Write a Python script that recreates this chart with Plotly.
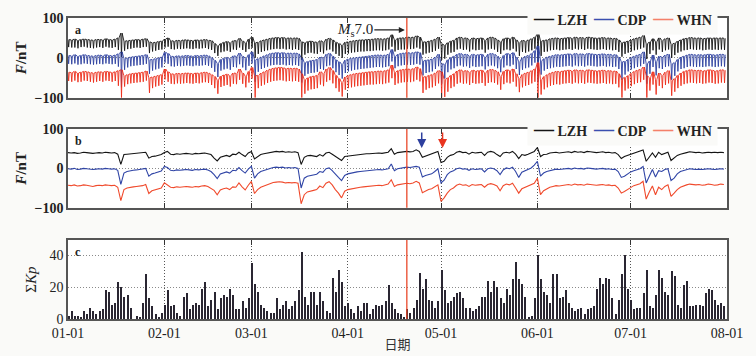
import pandas as pd
import plotly.graph_objects as go
from plotly.subplots import make_subplots

# ---------------- data ----------------
start_date = "2013-01-01"
n_days = 212
tick_dates = ["2013-01-01", "2013-02-01", "2013-03-01", "2013-04-01",
              "2013-05-01", "2013-06-01", "2013-07-01", "2013-08-01"]
tick_labels = ["01-01", "02-01", "03-01", "04-01", "05-01", "06-01", "07-01", "08-01"]
quake_date = "2013-04-20"
event_blue = "2013-04-24 19:00"
event_red = "2013-05-01 12:00"
stations = ["LZH", "CDP", "WHN"]

# panel a: per-day night level (hi) and daytime dip level (lo), nT
a_lzh_hi = [46,45,47,44,46,47,46,45,44,46, 46,45,48,46,45,47,50,62,42,43,
            44,45,46,45,47,48,40,38,39,41, 42,47,50,43,42,44,43,45,45,44,
            43,45,44,45,46,44,43,36,30,36, 39,41,38,43,43,49,42,38,47,52,
            38,39,43,45,47,49,50,51,50,51, 49,50,49,50,49,40,38,41,42,40,
            39,43,40,47,49,45,39,36,32,39, 40,42,43,44,45,45,46,46,47,48,
            48,47,48,50,58,45,49,50,50,52, 51,52,55,52,40,40,42,44,47,52,
            35,32,38,42,44,50,52,49,50,45, 50,48,49,50,44,50,52,50,45,40,
            48,50,48,52,45,38,44,42,45,48, 52,62,42,44,45,48,49,50,48,49,
            50,51,49,52,50,51,49,52,51,50, 49,50,51,49,50,48,49,45,38,40,
            42,45,48,50,52,56,35,40,48,40, 50,44,48,50,34,37,42,45,48,49,
            51,50,49,50,48,49,50,49,50,49, 50,49]
a_lzh_lo = [27,26,26,24,27,28,26,25,24,26, 27,25,28,26,25,27,20,2,18,22,
            23,25,26,25,27,28,12,16,18,20, 21,26,28,22,21,23,22,23,24,23,
            22,24,23,24,25,22,20,12,5,14, 16,18,15,21,20,26,20,15,22,25,
            0,10,15,17,19,21,22,23,22,23, 21,22,20,22,20,-5,8,12,13,11,
            10,15,11,19,21,16,10,5,0,10, 11,13,14,15,16,16,17,17,18,19,
            19,18,19,21,28,16,20,21,21,23, 22,23,26,23,8,11,13,15,18,23,
            -5,-2,8,13,15,21,23,20,21,16, 21,19,20,21,13,21,23,21,15,10,
            19,21,19,23,16,5,15,13,16,19, 23,-10,5,15,16,19,20,21,19,20,
            21,22,20,23,21,22,20,23,22,21, 20,21,22,20,21,19,20,15,3,10,
            13,16,19,21,23,26,-3,10,19,8, 21,15,19,21,0,7,13,16,19,20,
            22,21,20,21,19,20,21,20,21,20, 21,20]
a_cdp_hi = [6,5,8,4,6,8,6,5,4,6, 7,5,8,6,5,7,10,15,-2,0,
            2,3,4,5,6,8,-5,-4,-2,0, 2,14,11,4,3,5,4,5,6,5,
            4,6,5,6,7,5,1,-6,-14,-4, -1,1,-2,5,4,12,4,-1,8,15,
            -5,-2,2,5,8,11,12,13,12,13, 11,12,11,12,10,0,-12,-9,-7,-6,
            -4,2,0,9,11,4,-5,-10,-16,-6, -3,-1,0,1,2,3,4,5,6,7,
            7,6,7,9,21,4,9,11,12,13, 12,13,15,13,-8,-6,-5,-3,2,9,
            -15,-16,-5,1,4,9,11,8,9,5, 9,7,8,9,1,9,11,9,4,-5,
            6,11,9,13,2,-10,0,4,6,11, 18,30,-8,-2,2,4,6,8,7,8,
            9,10,8,11,9,10,8,11,10,9, 8,9,10,8,9,7,8,2,-10,-9,
            -4,1,4,7,9,15,-15,-8,7,-10, 4,2,7,9,-15,-12,-4,2,4,7,
            9,8,7,8,7,8,9,8,7,8, 9,8]
a_cdp_lo = [-15,-16,-14,-17,-16,-14,-15,-16,-17,-16, -15,-16,-14,-15,-16,-15,-22,-74,-30,-24,
            -21,-20,-19,-18,-17,-15,-40,-32,-29,-27, -24,-12,-15,-21,-22,-20,-21,-20,-19,-20,
            -21,-19,-20,-19,-18,-20,-25,-35,-48,-32, -29,-27,-30,-23,-24,-16,-24,-31,-20,-14,
            -60,-35,-28,-25,-22,-19,-18,-17,-18,-17, -19,-18,-19,-18,-20,-62,-45,-40,-38,-37,
            -35,-28,-30,-21,-19,-26,-36,-43,-52,-38, -34,-32,-30,-29,-28,-27,-26,-25,-24,-23,
            -23,-24,-23,-21,-9,-26,-21,-19,-18,-17, -18,-17,-15,-17,-44,-38,-36,-34,-28,-21,
            -65,-52,-36,-29,-26,-21,-19,-22,-21,-25, -21,-23,-22,-21,-29,-21,-19,-21,-26,-36,
            -24,-19,-21,-17,-28,-43,-30,-26,-24,-19, -12,-60,-42,-32,-28,-26,-24,-22,-23,-22,
            -21,-20,-22,-19,-21,-20,-22,-19,-20,-21, -22,-21,-20,-22,-21,-23,-22,-28,-55,-42,
            -34,-29,-26,-23,-21,-15,-65,-40,-23,-44, -26,-28,-23,-21,-55,-45,-34,-28,-26,-23,
            -21,-22,-23,-22,-23,-22,-21,-22,-23,-22, -21,-22]
a_whn_hi = [-36,-37,-34,-38,-36,-34,-35,-37,-38,-36, -35,-36,-34,-35,-37,-35,-32,-30,-45,-42,
            -40,-39,-38,-37,-36,-33,-50,-48,-46,-44, -42,-28,-35,-40,-41,-39,-40,-39,-38,-39,
            -40,-38,-39,-37,-36,-38,-42,-47,-56,-46, -43,-41,-45,-38,-39,-28,-38,-46,-34,-24,
            -45,-44,-38,-35,-31,-28,-26,-25,-24,-25, -27,-26,-27,-26,-28,-40,-55,-50,-47,-46,
            -44,-35,-39,-28,-24,-32,-44,-52,-62,-48, -44,-42,-40,-39,-38,-37,-36,-35,-35,-34,
            -33,-34,-32,-30,-18,-36,-32,-30,-29,-28, -29,-27,-23,-27,-48,-47,-44,-42,-38,-32,
            -35,-55,-50,-44,-40,-33,-30,-33,-32,-36, -31,-33,-32,-31,-38,-31,-29,-31,-35,-47,
            -34,-30,-32,-28,-40,-52,-42,-38,-36,-32, -28,-12,-55,-47,-42,-38,-36,-34,-35,-33,
            -32,-31,-33,-30,-32,-31,-33,-30,-31,-32, -33,-32,-31,-33,-32,-34,-33,-40,-52,-49,
            -45,-39,-34,-31,-29,-23,-45,-50,-35,-55, -38,-44,-36,-32,-58,-52,-44,-38,-34,-32,
            -30,-31,-32,-31,-33,-32,-30,-31,-33,-32, -30,-31]
a_whn_lo = [-58,-60,-57,-61,-60,-57,-58,-60,-62,-60, -58,-60,-57,-58,-60,-58,-70,-100,-72,-66,
            -64,-63,-62,-61,-60,-57,-88,-76,-72,-70, -67,-54,-60,-65,-66,-64,-65,-64,-63,-64,
            -65,-63,-64,-62,-61,-63,-68,-76,-90,-73, -70,-68,-72,-65,-66,-55,-65,-74,-62,-52,
            -100,-76,-70,-67,-63,-60,-58,-57,-56,-57, -59,-58,-59,-58,-60,-100,-90,-82,-79,-78,
            -76,-67,-71,-60,-56,-64,-76,-85,-97,-80, -76,-74,-72,-71,-70,-69,-68,-67,-67,-66,
            -65,-66,-64,-62,-51,-68,-64,-62,-61,-60, -61,-59,-55,-59,-88,-80,-76,-74,-70,-64,
            -100,-98,-85,-76,-72,-65,-62,-65,-64,-68, -63,-65,-64,-63,-70,-63,-61,-63,-67,-80,
            -66,-62,-64,-60,-72,-86,-74,-70,-68,-64, -60,-100,-92,-79,-74,-70,-68,-66,-67,-65,
            -64,-63,-65,-62,-64,-63,-65,-62,-63,-64, -65,-64,-63,-65,-64,-66,-65,-74,-100,-82,
            -77,-71,-66,-63,-61,-55,-100,-82,-67,-92, -70,-76,-68,-64,-95,-85,-76,-70,-66,-64,
            -62,-63,-64,-63,-65,-64,-62,-63,-65,-64, -62,-63]
a_sample_hours = [0, 5, 10]   # night, local-noon dip, night

# panel b: daily means, nT
b_lzh = [40,39,40,38,39,41,40,39,38,39, 40,39,41,40,39,40,36,10,35,36,
         37,38,39,39,40,41,26,30,31,33, 35,40,43,36,35,37,36,37,38,37,
         36,38,37,38,39,37,35,26,19,28, 31,33,30,36,35,41,35,30,39,43,
         24,30,35,37,39,41,42,43,42,43, 41,42,41,42,40,10,28,32,33,31,
         30,35,31,39,41,36,30,25,20,30, 31,33,34,35,36,36,37,37,38,39,
         39,38,39,41,50,36,40,41,41,43, 42,43,47,43,28,31,33,35,38,43,
         15,18,28,33,35,41,43,40,41,36, 41,39,40,41,33,41,43,41,35,30,
         39,41,39,43,36,25,35,33,36,39, 43,53,30,35,36,39,40,41,39,40,
         41,42,40,43,41,42,40,43,42,41, 40,41,42,40,41,39,40,35,25,30,
         33,36,39,41,43,47,18,30,39,28, 41,35,39,41,20,27,33,36,39,40,
         42,41,40,41,39,40,41,40,41,40, 41,40]
b_cdp = [-1,-2,0,-3,-2,0,-1,-2,-3,-2, -1,-2,0,-1,-2,-1,-5,-41,-12,-8,
         -6,-5,-4,-3,-2,0,-20,-14,-12,-10, -7,5,2,-5,-6,-4,-5,-4,-3,-4,
         -5,-3,-4,-3,-2,-4,-8,-16,-26,-14, -11,-9,-12,-5,-6,2,-6,-12,-2,5,
         -25,-14,-8,-5,-2,1,2,3,2,3, 1,2,1,2,0,-50,-25,-20,-18,-17,
         -15,-8,-10,-1,1,-6,-16,-23,-31,-18, -14,-12,-10,-9,-8,-7,-6,-5,-4,-3,
         -3,-4,-3,-1,11,-6,-1,1,2,3, 2,3,5,3,-22,-18,-16,-14,-8,-1,
         -37,-30,-16,-9,-6,-1,1,-2,-1,-5, -1,-3,-2,-1,-9,-1,1,-1,-6,-16,
         -4,1,-1,3,-8,-23,-10,-6,-4,1, 8,18,-20,-12,-8,-6,-4,-2,-3,-2,
         -1,0,-2,1,-1,0,-2,1,0,-1, -2,-1,0,-2,-1,-3,-2,-8,-23,-20,
         -14,-9,-6,-3,-1,5,-37,-20,-3,-22, -6,-8,-3,-1,-31,-25,-14,-8,-6,-3,
         -1,-2,-3,-2,-3,-2,-1,-2,-3,-2, -1,-2]
b_whn = [-43,-44,-42,-45,-44,-42,-43,-44,-46,-44, -43,-44,-42,-43,-44,-43,-48,-82,-54,-50,
         -48,-47,-46,-45,-44,-41,-64,-57,-55,-53, -50,-37,-43,-48,-49,-47,-48,-47,-46,-47,
         -48,-46,-47,-45,-44,-46,-50,-56,-67,-55, -52,-50,-54,-47,-48,-37,-47,-55,-43,-33,
         -64,-54,-48,-45,-41,-38,-36,-35,-34,-35, -37,-36,-37,-36,-38,-90,-67,-60,-57,-56,
         -54,-45,-49,-38,-34,-42,-54,-63,-75,-58, -54,-52,-50,-49,-48,-47,-46,-45,-45,-44,
         -43,-44,-42,-40,-29,-46,-42,-40,-39,-38, -39,-37,-33,-37,-62,-57,-54,-52,-48,-42,
         -84,-75,-63,-54,-50,-43,-40,-43,-42,-46, -41,-43,-42,-41,-48,-41,-39,-41,-45,-57,
         -44,-40,-42,-38,-50,-63,-52,-48,-46,-42, -38,-25,-67,-57,-52,-48,-46,-44,-45,-43,
         -42,-41,-43,-40,-42,-41,-43,-40,-41,-42, -43,-42,-41,-43,-42,-44,-43,-50,-63,-59,
         -55,-49,-44,-41,-39,-33,-78,-60,-45,-67, -48,-54,-46,-42,-71,-63,-54,-48,-44,-42,
         -40,-41,-42,-41,-43,-42,-40,-41,-43,-42, -40,-41]

# panel c: daily sum of Kp
kp_sum = [2,
          5,2,2,1,5,3,7,5,3,5, 6,18,17,9,10,23,20,14,15,7, 0,2,1,10,28,13,8,3,1,4,
          9,18,8,9,4,2,14,16,6,9, 10,9,19,23,8,12,17,6,13,15, 14,19,15,6,6,11,7,13,35,22,
          17,9,7,5,4,4,13,6,9,11, 6,8,11,18,42,14,9,17,17,9, 17,11,5,4,26,17,31,23,8,10,
          6,4,8,5,10,10,3,6,9,8, 9,11,21,10,6,4,
          3,1,6,4,7,12,29,19,25,12,11,7,11,
          31,18,10,11,14,16,17,13,7,7,5,6,8,14,14,24,17,24,20,13,10,19,15,25,
          36,25,22,14,1,2,13,40,25,17,15,10,28,28,13,14,18,10,7,5,6,7,3,6,
          7,8,19,26,22,26,25,13,3,12,28,40,19,12,6,7,7,16,31,8,7,15,
          31,26,17,15,30,27,9,7,21,24,8,8,9,9,8,16,19,18,12,9,10,8]

for name, arr in [("a_lzh_hi", a_lzh_hi), ("a_lzh_lo", a_lzh_lo), ("a_cdp_hi", a_cdp_hi),
                  ("a_cdp_lo", a_cdp_lo), ("a_whn_hi", a_whn_hi), ("a_whn_lo", a_whn_lo),
                  ("b_lzh", b_lzh), ("b_cdp", b_cdp), ("b_whn", b_whn), ("kp_sum", kp_sum)]:
    assert len(arr) == n_days, f"{name} has {len(arr)}"

# ---------------- styling ----------------
colors_a = {"LZH": "#141414", "CDP": "#2d3f9e", "WHN": "#ec2d1a"}
colors_b = {"LZH": "#141414", "CDP": "#3045a6", "WHN": "#f04a2c"}
legend_colors = {"LZH": "#141414", "CDP": "#3a4fb0", "WHN": "#f4806a"}
SERIF = "Liberation Serif"
BG = "#fafaf8"
FRAME = "#555555"
GRID_DASH = "1px,2px"

dates = pd.date_range(start_date, periods=n_days, freq="D")


def dense(hi, lo):
    xs, ys = [], []
    for d, h, l in zip(dates, hi, lo):
        for hr, v in zip(a_sample_hours, (h, l, h)):
            xs.append(d + pd.Timedelta(hours=hr))
            ys.append(v)
    return xs, ys


fig = make_subplots(rows=3, cols=1)

a_series = {"LZH": (a_lzh_hi, a_lzh_lo), "CDP": (a_cdp_hi, a_cdp_lo), "WHN": (a_whn_hi, a_whn_lo)}
for st in stations:
    xs, ys = dense(*a_series[st])
    fig.add_trace(go.Scatter(x=xs, y=ys, mode="lines", line=dict(color=colors_a[st], width=0.9),
                             showlegend=False, name=st), row=1, col=1)

b_series = {"LZH": b_lzh, "CDP": b_cdp, "WHN": b_whn}
for st in stations:
    fig.add_trace(go.Scatter(x=dates, y=b_series[st], mode="lines",
                             line=dict(color=colors_b[st], width=1.1),
                             showlegend=False, name=st), row=2, col=1)

fig.add_trace(go.Bar(x=dates, y=kp_sum, width=0.42 * 86400000, offset=0,
                     marker=dict(color="#2a2632", line=dict(width=0)),
                     showlegend=False, name="ΣKp"), row=3, col=1)

doms = {1: [0.7352, 1.0], 2: [0.3698, 0.6312], 3: [0.0, 0.2625]}

for r in (1, 2, 3):
    fig.update_xaxes(row=r, col=1, type="date", range=[tick_dates[0], tick_dates[-1]],
                     tickvals=tick_dates, ticktext=tick_labels, automargin=False,
                     showticklabels=(r == 3), ticks="inside", ticklen=5, tickwidth=1,
                     tickcolor="#333333", mirror="ticks", showline=True, linecolor=FRAME,
                     linewidth=1.5, showgrid=True, gridcolor="#555555", griddash=GRID_DASH,
                     gridwidth=1, zeroline=False,
                     tickfont=dict(family=SERIF, size=14, color="#222"))
fig.update_xaxes(row=3, col=1, title=dict(text="日期", standoff=0,
                 font=dict(family="Noto Sans CJK SC", size=13, color="#333")))

for r in (1, 2):
    fig.update_yaxes(row=r, col=1, domain=doms[r], range=[-100, 100], tickvals=[-100, 0, 100],
                     ticks="", showline=True, mirror=True, linecolor=FRAME, linewidth=1.5,
                     automargin=False,
                     showgrid=True, gridcolor="#8a8a8a", griddash=GRID_DASH, gridwidth=1,
                     zeroline=False, tickfont=dict(family=SERIF, size=14, color="#222", weight="bold"),
                     title=dict(text="<i>F</i>/nT", standoff=4,
                                font=dict(family=SERIF, size=15, color="#222", weight="bold")))
fig.update_yaxes(row=3, col=1, domain=doms[3], range=[0, 49.5], tickvals=[0, 20, 40],
                 ticks="", showline=True, mirror=True, linecolor=FRAME, linewidth=1.5,
                 automargin=False,
                 showgrid=True, gridcolor="#8a8a8a", griddash=GRID_DASH, gridwidth=1,
                 zeroline=False, tickfont=dict(family=SERIF, size=14, color="#222"),
                 title=dict(text="Σ<i>Kp</i>", standoff=9,
                            font=dict(family=SERIF, size=15, color="#222")))

# earthquake line in every panel
for ax in ("y", "y2", "y3"):
    xr = {"y": "x", "y2": "x2", "y3": "x3"}[ax]
    fig.add_shape(type="line", xref=xr, yref=f"{ax} domain", x0=quake_date, x1=quake_date,
                  y0=0, y1=1, line=dict(color="#e9482a", width=1.3))

# panel letters
for txt, r in (("a", 1), ("b", 2), ("c", 3)):
    fig.add_annotation(text=f"<b>{txt}</b>", xref="paper", yref="paper", x=0.007,
                       y=doms[r][1] - 0.01, xanchor="left", yanchor="top", showarrow=False,
                       font=dict(family=SERIF, size=12, color="#222"))

# legends for panels a and b
leg_parts = []
for st in stations:
    leg_parts.append(f'<span style="color:{legend_colors[st]};font-size:20px">—</span>\u00a0{st}')
leg_text = "\u00a0\u00a0".join(leg_parts)
for r in (1, 2):
    fig.add_annotation(text=f"<b>{leg_text}</b>", xref="paper", yref="paper", x=0.987,
                       y=doms[r][1], xanchor="right", yanchor="middle", showarrow=False,
                       bgcolor=BG, borderpad=5, font=dict(family=SERIF, size=14, color="#222"))

# Ms 7.0 arrow
fig.add_annotation(text="<i>M</i><sub>s</sub>7.0", x=quake_date, y=70, xref="x", yref="y",
                   ax=-52, ay=0, showarrow=True, arrowhead=2, arrowsize=1, arrowwidth=1.2,
                   arrowcolor="#222", standoff=2,
                   font=dict(family=SERIF, size=15, color="#222"))

# event arrows in panel b
for ev, col in ((event_blue, "#2d3f9e"), (event_red, "#e9351f")):
    fig.add_annotation(text="", x=ev, y=52, xref="x2", yref="y2", ax=0, ay=-17,
                       showarrow=True, arrowhead=2, arrowsize=1.2, arrowwidth=1.5,
                       arrowcolor=col)

fig.update_layout(width=756, height=356, margin=dict(l=68, r=29, t=18, b=37),
                  paper_bgcolor=BG, plot_bgcolor="#ffffff", bargap=0, showlegend=False)

fig.write_html("out.html", config={"displayModeBar": False},
               post_script="document.body.style.margin='0';"
                           "document.body.style.overflow='hidden';"
                           f"document.body.style.background='{BG}';")
